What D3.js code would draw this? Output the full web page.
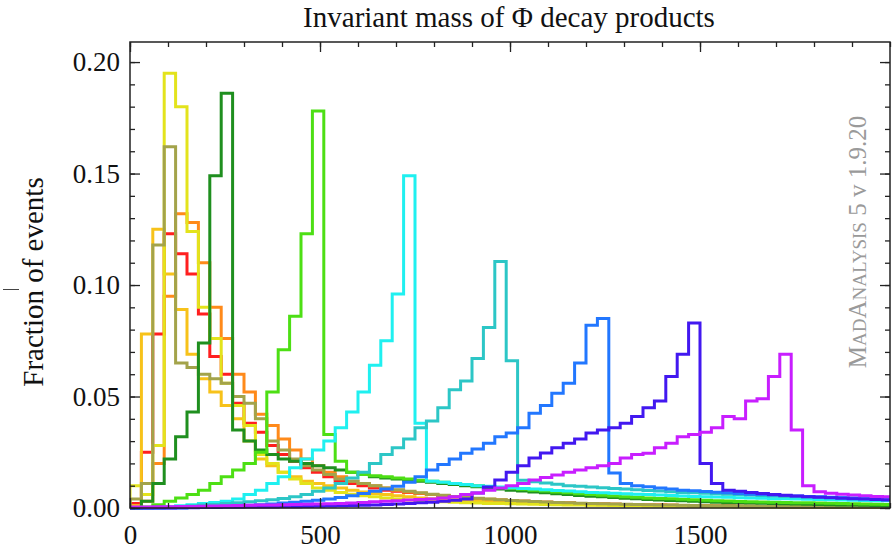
<!DOCTYPE html>
<html>
<head>
<meta charset="utf-8">
<script src="https://cdn.jsdelivr.net/npm/d3@7"></script>
<style>
body { margin: 0; background: #fff; }
text { font-family: "Liberation Serif", "Times New Roman", serif; }
</style>
</head>
<body>
<div id="chart"></div>
<script>
// bins of 30 GeV starting at 0
var binWidth = 30;

var red = [0.002, 0.025, 0.078, 0.123, 0.114, 0.105, 0.087, 0.068, 0.060, 0.047,
  0.038, 0.034, 0.028, 0.024, 0.021, 0.018, 0.016, 0.014, 0.012, 0.011,
  0.010, 0.009, 0.008, 0.0075, 0.007, 0.0065, 0.006, 0.0055, 0.005, 0.0045,
  0.004, 0.0038, 0.0035, 0.0032, 0.003, 0.0028, 0.0026, 0.0024, 0.0022, 0.002,
  0.0019, 0.0018, 0.0017, 0.0016, 0.0015, 0.0014, 0.0013, 0.0012, 0.0011, 0.001,
  0.001, 0.0009, 0.0009, 0.0008, 0.0008, 0.0007, 0.0007, 0.0006, 0.0006, 0.0005,
  0.0005, 0.0005, 0.0004, 0.0004, 0.0004, 0.0003, 0.0003];
var orange = [0.001, 0.003, 0.020, 0.095, 0.132, 0.128, 0.110, 0.090, 0.076, 0.060,
  0.052, 0.042, 0.037, 0.031, 0.026, 0.022, 0.019, 0.016, 0.014, 0.012,
  0.011, 0.010, 0.009, 0.008, 0.0072, 0.0066, 0.006, 0.0055, 0.005, 0.0046,
  0.0042, 0.0039, 0.0036, 0.0033, 0.003, 0.0028, 0.0026, 0.0024, 0.0022, 0.002,
  0.0019, 0.0018, 0.0017, 0.0016, 0.0015, 0.0014, 0.0013, 0.0012, 0.0011, 0.001,
  0.001, 0.0009, 0.0009, 0.0008, 0.0008, 0.0007, 0.0007, 0.0006, 0.0006, 0.0006,
  0.0005, 0.0005, 0.0005, 0.0004, 0.0004, 0.0004, 0.0003];
var gold = [0.001, 0.078, 0.125, 0.105, 0.089, 0.069, 0.058, 0.052, 0.046, 0.040,
  0.030, 0.022, 0.019, 0.016, 0.014, 0.012, 0.011, 0.010, 0.009, 0.008,
  0.0072, 0.0065, 0.006, 0.0055, 0.005, 0.0045, 0.0042, 0.0039, 0.0036, 0.0033,
  0.003, 0.0028, 0.0026, 0.0024, 0.0022, 0.002, 0.0019, 0.0018, 0.0017, 0.0016,
  0.0015, 0.0014, 0.0013, 0.0012, 0.0011, 0.001, 0.001, 0.0009, 0.0009, 0.0008,
  0.0008, 0.0007, 0.0007, 0.0006, 0.0006, 0.0006, 0.0005, 0.0005, 0.0005, 0.0004,
  0.0004, 0.0004, 0.0003, 0.0003, 0.0003, 0.0003, 0.0002];
var yellow = [0.010, 0.006, 0.028, 0.195, 0.180, 0.124, 0.090, 0.076, 0.056, 0.046,
  0.037, 0.024, 0.020, 0.016, 0.013, 0.011, 0.009, 0.008, 0.007, 0.0062,
  0.0055, 0.005, 0.0045, 0.004, 0.0036, 0.0033, 0.003, 0.0028, 0.0026, 0.0024,
  0.0022, 0.002, 0.002, 0.0019, 0.0018, 0.0017, 0.0016, 0.0015, 0.0014, 0.0013,
  0.0012, 0.0012, 0.0011, 0.001, 0.001, 0.0009, 0.0009, 0.0008, 0.0008, 0.0007,
  0.0007, 0.0006, 0.0006, 0.0006, 0.0005, 0.0005, 0.0005, 0.0004, 0.0004, 0.0004,
  0.0003, 0.0003, 0.0003, 0.0003, 0.0002, 0.0002, 0.0002];
var olive = [0.004, 0.011, 0.118, 0.162, 0.065, 0.063, 0.060, 0.058, 0.056, 0.050,
  0.047, 0.040, 0.030, 0.026, 0.022, 0.019, 0.017, 0.015, 0.013, 0.012,
  0.011, 0.010, 0.009, 0.0082, 0.0075, 0.0068, 0.0062, 0.0057, 0.0052, 0.0048,
  0.0044, 0.004, 0.0037, 0.0034, 0.0031, 0.0029, 0.0027, 0.0025, 0.0023, 0.0021,
  0.002, 0.0019, 0.0018, 0.0017, 0.0016, 0.0015, 0.0014, 0.0013, 0.0012, 0.0011,
  0.001, 0.001, 0.0009, 0.0009, 0.0008, 0.0008, 0.0007, 0.0007, 0.0006, 0.0006,
  0.0006, 0.0005, 0.0005, 0.0005, 0.0004, 0.0004, 0.0004];
var darkGreen = [0, 0.003, 0.011, 0.022, 0.032, 0.043, 0.074, 0.149, 0.186, 0.035,
  0.030, 0.026, 0.024, 0.022, 0.021, 0.020, 0.019, 0.018, 0.017, 0.016,
  0.015, 0.014, 0.0135, 0.013, 0.0125, 0.012, 0.0115, 0.011, 0.0105, 0.010,
  0.0095, 0.009, 0.0085, 0.008, 0.0076, 0.0072, 0.0068, 0.0064, 0.006, 0.0056,
  0.0053, 0.005, 0.0047, 0.0044, 0.0041, 0.0038, 0.0036, 0.0034, 0.0032, 0.003,
  0.0028, 0.0026, 0.0024, 0.0023, 0.0022, 0.0021, 0.002, 0.0019, 0.0018, 0.0017,
  0.0016, 0.0015, 0.0014, 0.0013, 0.0012, 0.0011, 0.001];
var lime = [0, 0.0005, 0.0015, 0.003, 0.0045, 0.006, 0.008, 0.011, 0.014, 0.017,
  0.020, 0.025, 0.052, 0.071, 0.086, 0.123, 0.178, 0.033, 0.021, 0.016,
  0.015, 0.0145, 0.014, 0.0135, 0.013, 0.0125, 0.012, 0.0115, 0.011, 0.0105,
  0.010, 0.0096, 0.0092, 0.0088, 0.0084, 0.008, 0.0076, 0.0072, 0.0068, 0.0064,
  0.006, 0.0057, 0.0054, 0.0051, 0.0048, 0.0045, 0.0043, 0.0041, 0.0039, 0.0037,
  0.0035, 0.0033, 0.0031, 0.0029, 0.0028, 0.0027, 0.0026, 0.0025, 0.0024, 0.0023,
  0.0022, 0.0021, 0.002, 0.0019, 0.0018, 0.0017, 0.0016];
var cyan = [0, 0, 0, 0.0005, 0.001, 0.0015, 0.002, 0.0025, 0.003, 0.004,
  0.006, 0.008, 0.011, 0.014, 0.018, 0.022, 0.026, 0.030, 0.036, 0.043,
  0.052, 0.064, 0.075, 0.096, 0.149, 0.038, 0.012, 0.0115, 0.011, 0.0105,
  0.010, 0.0097, 0.0094, 0.0091, 0.0088, 0.0085, 0.0082, 0.0079, 0.0076, 0.0073,
  0.007, 0.0068, 0.0066, 0.0064, 0.0062, 0.006, 0.0058, 0.0056, 0.0054, 0.0052,
  0.005, 0.0049, 0.0048, 0.0046, 0.0045, 0.0044, 0.0042, 0.0041, 0.004, 0.0039,
  0.0038, 0.0037, 0.0036, 0.0035, 0.0034, 0.0033, 0.0032];
var teal = [0, 0, 0.0002, 0.0004, 0.0007, 0.001, 0.0013, 0.0016, 0.002, 0.0024,
  0.0028, 0.0032, 0.0037, 0.0043, 0.005, 0.006, 0.0075, 0.009, 0.011, 0.0135,
  0.016, 0.020, 0.024, 0.027, 0.031, 0.036, 0.039, 0.045, 0.053, 0.057,
  0.067, 0.081, 0.1105, 0.066, 0.0125, 0.0118, 0.0112, 0.0106, 0.010, 0.0097,
  0.0094, 0.0091, 0.0088, 0.0085, 0.0082, 0.0079, 0.0076, 0.0073, 0.007, 0.0068,
  0.0066, 0.0064, 0.0062, 0.006, 0.0058, 0.0056, 0.0054, 0.0052, 0.005, 0.0049,
  0.0048, 0.0047, 0.0046, 0.0045, 0.0044, 0.0043, 0.0042];
var azure = [0, 0, 0, 0, 0, 0.0002, 0.0003, 0.0005, 0.0007, 0.001,
  0.0012, 0.0015, 0.0018, 0.0022, 0.0026, 0.003, 0.0035, 0.004, 0.0047, 0.0055,
  0.0065, 0.0075, 0.0085, 0.0097, 0.0115, 0.014, 0.017, 0.0195, 0.022, 0.0245,
  0.0265, 0.029, 0.032, 0.0336, 0.036, 0.0425, 0.046, 0.0515, 0.056, 0.065,
  0.082, 0.085, 0.0157, 0.011, 0.010, 0.0095, 0.009, 0.0085, 0.008, 0.0077,
  0.0074, 0.0071, 0.0068, 0.0065, 0.0062, 0.006, 0.0058, 0.0056, 0.0054, 0.0052,
  0.005, 0.0048, 0.0046, 0.0044, 0.0042, 0.004, 0.0038];
var blue = [0, 0, 0, 0, 0.0001, 0.0001, 0.0002, 0.0002, 0.0003, 0.0003,
  0.0004, 0.0005, 0.0005, 0.0006, 0.0006, 0.0007, 0.0008, 0.0009, 0.001, 0.0011,
  0.0012, 0.0014, 0.0016, 0.0018, 0.002, 0.0023, 0.0026, 0.003, 0.0035, 0.004,
  0.0067, 0.0094, 0.0126, 0.016, 0.019, 0.0224, 0.0247, 0.027, 0.029, 0.031,
  0.0336, 0.035, 0.036, 0.038, 0.041, 0.045, 0.048, 0.059, 0.069, 0.083,
  0.020, 0.011, 0.008, 0.0075, 0.007, 0.0065, 0.006, 0.0057, 0.0054, 0.0051,
  0.0048, 0.0046, 0.0044, 0.0042, 0.004, 0.0038, 0.0036];
var magenta = [0.0005, 0.0005, 0.0006, 0.0006, 0.0007, 0.0007, 0.0008, 0.0009, 0.001, 0.0011,
  0.0012, 0.0013, 0.0014, 0.0015, 0.0016, 0.0017, 0.0018, 0.0019, 0.002, 0.0022,
  0.0025, 0.0028, 0.003, 0.0033, 0.0036, 0.0038, 0.004, 0.0045, 0.005, 0.006,
  0.0067, 0.008, 0.009, 0.010, 0.011, 0.0126, 0.0137, 0.0148, 0.016, 0.017,
  0.018, 0.019, 0.020, 0.0224, 0.024, 0.0246, 0.027, 0.029, 0.032, 0.033,
  0.034, 0.036, 0.041, 0.040, 0.048, 0.049, 0.059, 0.069, 0.035, 0.010,
  0.0073, 0.0066, 0.0062, 0.0058, 0.0055, 0.0052, 0.005];

var xTicks = [0, 500, 1000, 1500];
var yTicks = [0, 0.05, 0.10, 0.15, 0.20];

var series = [
  {v: red, c: "#ff1f1f"},
  {v: orange, c: "#ff8a1a"},
  {v: gold, c: "#f7c21a"},
  {v: yellow, c: "#e3e31c"},
  {v: olive, c: "#a3a34a"},
  {v: darkGreen, c: "#1f8f1f"},
  {v: lime, c: "#4ddf14"},
  {v: cyan, c: "#1ff0f0"},
  {v: teal, c: "#2cc6c6"},
  {v: azure, c: "#2277ff"},
  {v: blue, c: "#4218f0"},
  {v: magenta, c: "#c81eff"}
];

var width = 892, height = 550;
var pLeft = 130, pRight = 890, pTop = 42, pBottom = 508;

var x = d3.scaleLinear().domain([0, 2000]).range([pLeft, pRight]);
var y = d3.scaleLinear().domain([0, 0.209]).range([pBottom, pTop]);

var svg = d3.select("#chart").append("svg").attr("width", width).attr("height", height);

svg.append("clipPath").attr("id", "clip").append("rect")
  .attr("x", pLeft).attr("y", pTop).attr("width", pRight - pLeft).attr("height", pBottom - pTop + 3);

// histograms as step outlines
var line = d3.line().x(function(d) { return x(d[0]); }).y(function(d) { return y(d[1]); }).curve(d3.curveStepAfter);
var g = svg.append("g").attr("clip-path", "url(#clip)");
series.forEach(function(s) {
  var pts = [[0, 0]];
  s.v.forEach(function(v, i) { pts.push([i * binWidth, v]); });
  pts.push([s.v.length * binWidth, 0]);
  g.append("path").attr("d", line(pts)).attr("fill", "none")
    .attr("stroke", s.c).attr("stroke-width", 3).attr("stroke-linejoin", "miter");
});

// frame
svg.append("rect").attr("x", pLeft).attr("y", pTop).attr("width", pRight - pLeft).attr("height", pBottom - pTop)
  .attr("fill", "none").attr("stroke", "#222").attr("stroke-width", 1.5);

function styleAxis(sel) {
  sel.select(".domain").remove();
  sel.selectAll("line").attr("stroke", "#222").attr("stroke-width", 1.3);
  sel.selectAll("text").attr("fill", "#111").style("font-size", "27px")
    .style("font-family", "'Liberation Serif', 'Times New Roman', serif");
}

var xMinor = d3.range(0, 2001, 100);
var yMinor = d3.range(0, 0.2001, 0.01);

svg.append("g").attr("transform", "translate(0," + pBottom + ")")
  .call(d3.axisBottom(x).tickValues(xMinor).tickSize(-5).tickFormat("")).call(styleAxis);
svg.append("g").attr("transform", "translate(0," + pBottom + ")")
  .call(d3.axisBottom(x).tickValues(xTicks).tickSize(-10).tickPadding(17).tickFormat(d3.format("d"))).call(styleAxis);
svg.append("g").attr("transform", "translate(0," + pTop + ")")
  .call(d3.axisTop(x).tickValues(xMinor).tickSize(-5).tickFormat("")).call(styleAxis);
svg.append("g").attr("transform", "translate(0," + pTop + ")")
  .call(d3.axisTop(x).tickValues(xTicks).tickSize(-10).tickFormat("")).call(styleAxis);

svg.append("g").attr("transform", "translate(" + pLeft + ",0)")
  .call(d3.axisLeft(y).tickValues(yMinor).tickSize(-5).tickFormat("")).call(styleAxis);
svg.append("g").attr("transform", "translate(" + pLeft + ",0)")
  .call(d3.axisLeft(y).tickValues(yTicks).tickSize(-10).tickPadding(10).tickFormat(d3.format(".2f"))).call(styleAxis);
svg.append("g").attr("transform", "translate(" + pRight + ",0)")
  .call(d3.axisRight(y).tickValues(yMinor).tickSize(-5).tickFormat("")).call(styleAxis);
svg.append("g").attr("transform", "translate(" + pRight + ",0)")
  .call(d3.axisRight(y).tickValues(yTicks).tickSize(-10).tickFormat("")).call(styleAxis);

// title and axis label
svg.append("text").attr("x", 509).attr("y", 27).attr("text-anchor", "middle")
  .style("font-size", "29px").attr("fill", "#111").text("Invariant mass of \u03A6 decay products");

svg.append("text").attr("transform", "translate(43,282) rotate(-90)").attr("text-anchor", "middle")
  .style("font-size", "29px").attr("fill", "#111").text("Fraction of events");

// stray dash left of the axis label
svg.append("line").attr("x1", 3).attr("x2", 19).attr("y1", 289.5).attr("y2", 289.5)
  .attr("stroke", "#444").attr("stroke-width", 1);

// watermark in small caps
var wm = svg.append("text").attr("transform", "translate(866,242) rotate(-90)")
  .attr("text-anchor", "middle").attr("fill", "#9a9a9a").style("font-size", "25px");
[["M", 25], ["AD", 19], ["A", 25], ["NALYSIS", 19], [" 5 v 1.9.20", 25]].forEach(function(p) {
  wm.append("tspan").style("font-size", p[1] + "px").text(p[0]);
});
</script>
</body>
</html>
